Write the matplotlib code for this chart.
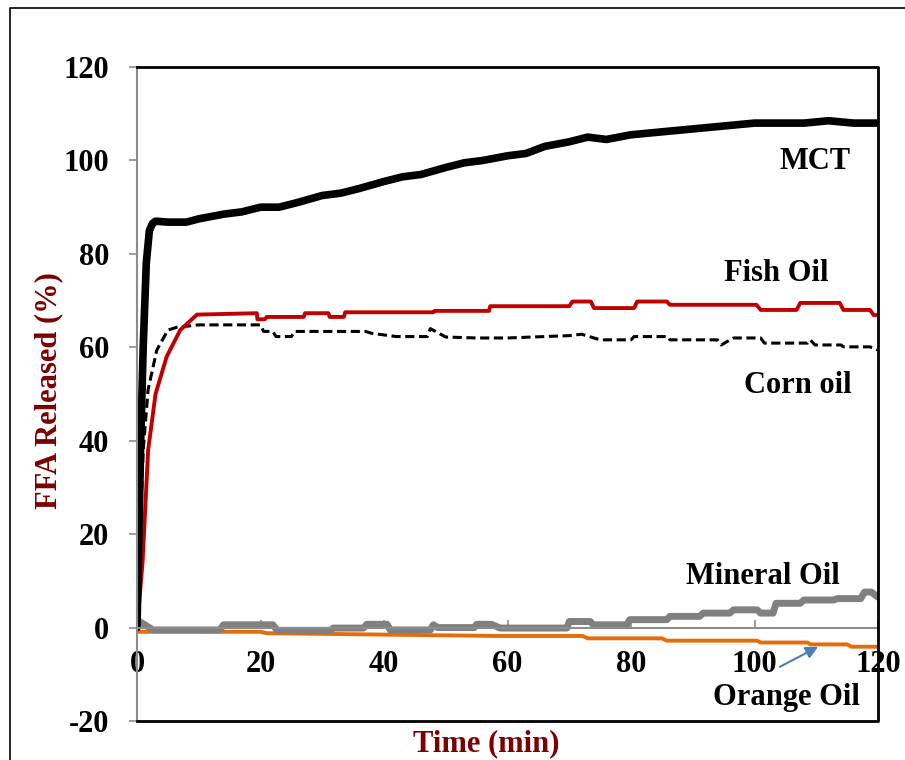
import matplotlib.pyplot as plt
from matplotlib.lines import Line2D

# FFA release curves (time in min, % released)
mct_t = [0, 0.3, 0.6, 1.0, 1.5, 2.0, 2.5, 3, 5, 8, 10, 12, 14, 17, 20, 23, 26, 30, 33,
         36, 40, 43, 46, 50, 53, 56, 60, 63, 66, 70, 73, 76, 80, 84, 88, 92, 96, 100,
         104, 108, 112, 116, 120]
mct_v = [0, 20, 40, 60, 78, 85, 86.5, 87, 86.8, 86.8, 87.5, 88, 88.5, 89, 90, 90, 91,
         92.5, 93, 94, 95.5, 96.5, 97, 98.5, 99.5, 100, 101, 101.5, 103, 104, 105, 104.5,
         105.5, 106, 106.5, 107, 107.5, 108, 108, 108, 108.5, 108, 108]

fish_t = [0, 0.9, 1.8, 3, 4.8, 7, 9.7, 19.4, 19.5, 20.7, 21, 27, 27.2, 31, 31.2, 33.5,
          33.7, 48, 48.2, 57, 57.2, 70, 70.5, 73.5, 74, 80.5, 81, 85.8, 86.3, 100.3,
          101, 106.8, 107.4, 113.8, 114.4, 118.7, 119.3, 120]
fish_v = [0, 14, 38, 50, 58, 63.7, 67, 67.3, 66, 66, 66.5, 66.5, 67.3, 67.3, 66.5, 66.5,
          67.5, 67.5, 67.8, 67.8, 68.8, 68.8, 69.8, 69.8, 68.4, 68.4, 69.8, 69.8, 69.1,
          69.1, 68, 68, 69.5, 69.5, 68, 68, 66.9, 66.9]

corn_t = [0, 1, 1.8, 3.2, 5, 6.5, 10, 20, 20.5, 22, 22.5, 25, 25.5, 37, 38, 42, 47,
          47.5, 50, 55, 60, 70, 72, 75, 80, 80.5, 86, 86.3, 94, 94.6, 96.6, 101, 101.6,
          108.6, 109, 109.8, 114, 114.4, 118.7, 120]
corn_v = [0, 38, 51, 59.4, 63.7, 64.3, 64.8, 64.8, 63.4, 63.4, 62.3, 62.3, 63.4, 63.4,
          63, 62.3, 62.3, 64, 62.2, 62, 62, 62.5, 62.8, 61.6, 61.6, 62.3, 62.3, 61.6, 61.6,
          60.5, 62, 62, 60.9, 60.9, 61.6, 60.5, 60.5, 60.1, 60.1, 59.4]

mineral_t = [0, 0.4, 2.6, 13.4, 14, 22, 22.7, 31.3, 31.8, 36.7, 37.2, 40.5, 41, 47.5,
             48, 48.7, 54.6, 55, 57.4, 58.8, 69.6, 70, 73.4, 73.9, 79.3, 79.8, 85.8,
             86.3, 91.1, 91.7, 96, 96.6, 100.4, 101, 103, 103.5, 107.4, 108, 112.8,
             113.4, 117.2, 117.8, 118.9, 120]
mineral_v = [1.0, 1.3, -0.5, -0.5, 0.6, 0.6, -0.6, -0.6, -0.1, -0.1, 0.7, 0.7, -0.5,
             -0.5, 0.6, 0.0, 0.0, 0.7, 0.7, -0.1, -0.1, 1.3, 1.3, 0.6, 0.6, 1.7, 1.7, 2.4,
             2.4, 3.1, 3.1, 3.8, 3.8, 3.1, 3.1, 5.2, 5.2, 5.9, 5.9, 6.2, 6.2, 7.6, 7.6, 6.5]

orange_t = [0, 20, 21, 58.8, 72.2, 73, 85, 85.8, 100.4, 101, 108.6, 109, 115, 115.7, 120]
orange_v = [-0.9, -0.9, -1.2, -1.8, -1.8, -2.3, -2.3, -2.8, -2.8, -3.2, -3.2, -3.6, -3.6,
            -4.1, -4.1]

x_ticks = [0, 20, 40, 60, 80, 100, 120]
y_ticks = [-20, 0, 20, 40, 60, 80, 100, 120]

plt.rcParams['font.family'] = ['Liberation Serif', 'DejaVu Serif']
plt.rcParams['font.weight'] = 'bold'
plt.rcParams['axes.unicode_minus'] = False
FS = 22
dark_red = '#7B0000'

fig = plt.figure(figsize=(9.05, 7.6), dpi=100)
ax = fig.add_axes([0.1514, 0.0513, 0.8188, 0.8605])

ax.plot(orange_t, orange_v, color='#E46C0A', lw=2.8, solid_capstyle='round')
ax.plot(mineral_t, mineral_v, color='#808080', lw=5, solid_capstyle='round',
        solid_joinstyle='round')
ax.plot(corn_t, corn_v, color='black', lw=2.2, dashes=(3, 1.5))
ax.plot(fish_t, fish_v, color='#C00000', lw=2.8, solid_joinstyle='round')
ax.plot(mct_t, mct_v, color='black', lw=5.5, solid_joinstyle='round',
        solid_capstyle='round')

ax.set_xlim(0, 120)
ax.set_ylim(-20, 120)
ax.set_xticks(x_ticks)
ax.set_yticks(y_ticks)

# x axis crosses at y = 0, frame drawn separately
ax.spines['bottom'].set_position(('data', 0))
ax.spines['bottom'].set_color('#8C8C8C')
ax.spines['bottom'].set_linewidth(1.5)
ax.spines['left'].set_color('#8C8C8C')
ax.spines['left'].set_linewidth(1.5)
ax.spines['top'].set_visible(False)
ax.spines['right'].set_visible(False)
ax.plot([0, 1, 1, 0], [0, 0, 1, 1], transform=ax.transAxes, color='black', lw=2,
        clip_on=False, zorder=5)

ax.tick_params(axis='x', direction='in', length=6, width=1.2, color='#8C8C8C',
               labelsize=FS, pad=16)
ax.tick_params(axis='y', direction='out', length=6, width=1.2, color='#8C8C8C',
               labelsize=FS, pad=14)
for lab in ax.get_xticklabels() + ax.get_yticklabels():
    lab.set_fontweight('bold')

ax.set_xlabel('Time (min)', fontsize=FS, fontweight='bold', color=dark_red)
ax.xaxis.set_label_coords(0.4715, -0.012)
ax.set_ylabel('FFA Released (%)', fontsize=FS, fontweight='bold', color=dark_red)
ax.yaxis.set_label_coords(-0.099, 0.505)

txt = dict(fontsize=FS, fontweight='bold', ha='center', va='center')
ax.text(109.8, 99.7, 'MCT', **txt)
ax.text(103.5, 75.9, 'Fish Oil', **txt)
ax.text(107.0, 51.9, 'Corn oil', **txt)
ax.text(101.4, 11.0, 'Mineral Oil', **txt)
ax.text(105.1, -15.0, 'Orange Oil', **txt)
ax.annotate('', xy=(110.3, -4.1), xytext=(104.1, -8.4),
            arrowprops=dict(arrowstyle='-|>', color='#4A7EBB', lw=1.5,
                            mutation_scale=18, shrinkA=0, shrinkB=0))

# outer frame
fig.add_artist(Line2D([0.011, 0.011, 1.0], [0.0, 0.9895, 0.9895],
                      transform=fig.transFigure, color='black', lw=1.2))

fig.savefig('out.png', dpi=100)
